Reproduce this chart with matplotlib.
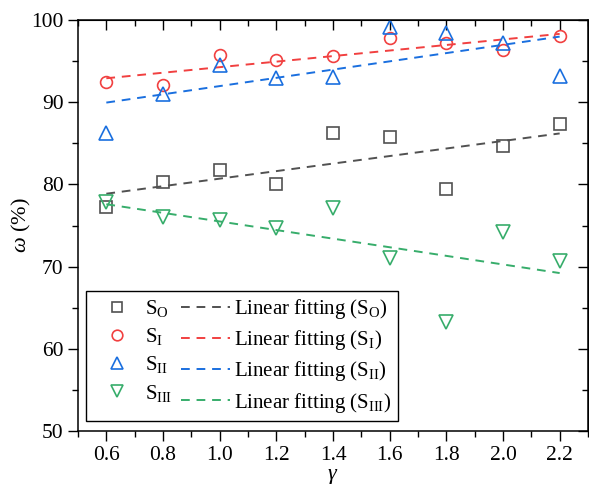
import numpy as np
import matplotlib
matplotlib.use("Agg")
import matplotlib.pyplot as plt

plt.rcParams["font.family"] = ["Liberation Serif", "DejaVu Serif"]
plt.rcParams["mathtext.fontset"] = "custom"
plt.rcParams["mathtext.rm"] = "Liberation Serif"
plt.rcParams["mathtext.it"] = "Liberation Serif:italic"

# gamma values
gamma = [0.6, 0.8, 1.0, 1.2, 1.4, 1.6, 1.8, 2.0, 2.2]

# omega (%)
s_o = [77.2, 80.3, 81.7, 80.0, 86.3, 85.8, 79.5, 84.7, 87.3]
s_i = [92.5, 92.1, 95.8, 95.1, 95.6, 97.8, 97.2, 96.3, 98.1]
s_ii = [86.3, 91.0, 94.5, 92.9, 93.1, 99.1, 98.4, 97.2, 93.2]
s_iii = [77.9, 76.0, 75.7, 74.7, 77.1, 71.1, 63.2, 74.2, 70.7]

names = ["O", "I", "II", "III"]
colors = ["#515151", "#F14040", "#1A6FDF", "#37AD6B"]
markers = ["s", "o", "^", "v"]
msizes = [8, 8.5, 10, 10]

fig = plt.figure(figsize=(5.89, 4.96), dpi=100)
ax = fig.add_axes([78 / 589, 1 - 431 / 496, 510 / 589, 411 / 496])

x = np.array(gamma)
pts = []
fits = []
for ys, name, c, m, ms in zip([s_o, s_i, s_ii, s_iii], names, colors, markers, msizes):
    p, = ax.plot(x, ys, linestyle="none", marker=m, ms=ms, mfc="none",
                 mec=c, mew=1.2, label=r"S$_\mathrm{%s}$" % name)
    k, b = np.polyfit(x, ys, 1)
    f, = ax.plot(x, k * x + b, color=c, lw=1.4, linestyle=(0, (4.5, 3.5)),
                 label=r"Linear fitting (S$_\mathrm{%s}$)" % name)
    pts.append(p)
    fits.append(f)

ax.set_xlim(0.5, 2.3)
ax.set_ylim(50, 100)
ax.set_xticks(np.arange(0.6, 2.21, 0.2))
ax.set_xticks(np.arange(0.5, 2.31, 0.1), minor=True)
ax.set_yticks(np.arange(50, 101, 10))
ax.set_yticks(np.arange(50, 101, 5), minor=True)
ax.set_xticklabels(["%.1f" % v for v in np.arange(0.6, 2.21, 0.2)])

ax.tick_params(which="major", direction="out", length=7, width=1, labelsize=15.5, colors="black")
ax.tick_params(which="minor", direction="out", length=4, width=1)
for s in ax.spines.values():
    s.set_linewidth(1.1)

# mirrored ticks on top and right pointing inward
top = ax.secondary_xaxis("top")
top.set_xticks(np.arange(0.6, 2.21, 0.2))
top.set_xticks(np.arange(0.5, 2.31, 0.1), minor=True)
top.tick_params(which="major", direction="in", length=7, width=1, labeltop=False)
top.tick_params(which="minor", direction="in", length=4, width=1)
right = ax.secondary_yaxis("right")
right.set_yticks(np.arange(50, 101, 10))
right.set_yticks(np.arange(50, 101, 5), minor=True)
right.tick_params(which="major", direction="in", length=7, width=1, labelright=False)
right.tick_params(which="minor", direction="in", length=4, width=1)

ax.set_xlabel(r"$\gamma$", fontsize=16, labelpad=2)
ax.set_ylabel(r"$\omega$ (%)", fontsize=16)
ax.yaxis.set_label_coords(-0.088, 0.5)

leg = ax.legend(pts + fits, [h.get_label() for h in pts + fits], ncol=2,
                loc="lower left", bbox_to_anchor=(0.0157, 0.0243), borderaxespad=0,
                fontsize=15, handlelength=2.35, handletextpad=0.2, columnspacing=0.4,
                labelspacing=0.35, borderpad=0.3, fancybox=False, framealpha=1,
                edgecolor="black", markerscale=0.9)
leg.get_frame().set_linewidth(1.0)

fig.savefig("out.png", dpi=100)
